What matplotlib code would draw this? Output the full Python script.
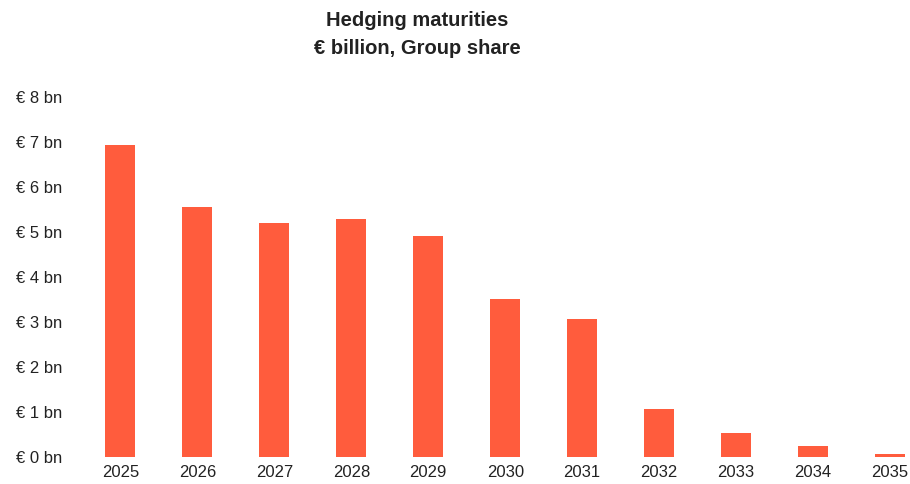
import matplotlib.pyplot as plt

years = ['2025', '2026', '2027', '2028', '2029', '2030', '2031', '2032', '2033', '2034', '2035']
maturities = [6.93, 5.55, 5.19, 5.28, 4.92, 3.51, 3.07, 1.06, 0.53, 0.25, 0.07]
y_ticks = [0, 1, 2, 3, 4, 5, 6, 7, 8]
y_labels = ['€ %d bn' % t for t in y_ticks]

plt.rcParams['font.family'] = ['Liberation Sans', 'DejaVu Sans']

fig = plt.figure(figsize=(9.1, 4.84), dpi=100)
ax = fig.add_axes([82 / 910, 27 / 484, 828 / 910, 360 / 484])

x = list(range(len(years)))
ax.bar(x, maturities, width=0.39, color='#ff5c3d')

ax.set_xlim(-0.5, 10.26)
ax.set_ylim(0, 8)
ax.set_xticks(x)
ax.set_xticklabels(years, fontsize=12, color='#222222')
ax.set_yticks(y_ticks)
ax.set_yticklabels(y_labels, fontsize=12, color='#222222')
ax.tick_params(axis='both', length=0)
ax.tick_params(axis='y', pad=14)
ax.tick_params(axis='x', pad=6)
for s in ax.spines.values():
    s.set_visible(False)

fig.text(417 / 910, 1 - 21 / 484, 'Hedging maturities', ha='center', va='center',
         fontsize=14.5, fontweight='bold', color='#222222')
fig.text(417 / 910, 1 - 48 / 484, '€ billion, Group share', ha='center', va='center',
         fontsize=14.5, fontweight='bold', color='#222222')

fig.savefig('out.png', dpi=100)
